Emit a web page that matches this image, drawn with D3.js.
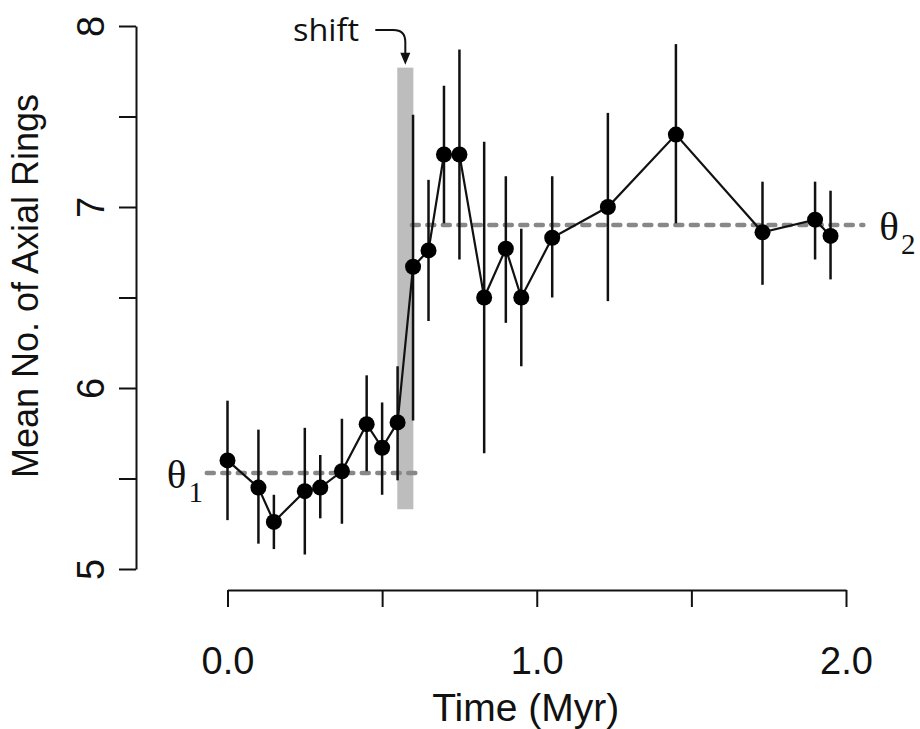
<!DOCTYPE html>
<html>
<head>
<meta charset="utf-8">
<script src="https://cdn.jsdelivr.net/npm/d3@7"></script>
<style>
  html, body { margin: 0; padding: 0; background: #fff; }
  svg { display: block; }
</style>
</head>
<body>
<svg id="chart" width="920" height="729"></svg>
<script>
// ---- data ----
const times = [0.00, 0.10, 0.15, 0.25, 0.30, 0.37, 0.45, 0.50, 0.55, 0.60, 0.65, 0.70, 0.75, 0.83, 0.90, 0.95, 1.05, 1.23, 1.45, 1.73, 1.90, 1.95];
const means = [5.60, 5.45, 5.26, 5.43, 5.45, 5.54, 5.80, 5.67, 5.81, 6.67, 6.76, 7.29, 7.29, 6.50, 6.77, 6.50, 6.83, 7.00, 7.40, 6.86, 6.93, 6.84];
const upper = [5.93, 5.77, 5.41, 5.78, 5.63, 5.83, 6.07, 5.92, 6.12, 7.51, 7.15, 7.67, 7.87, 7.36, 7.17, 6.88, 7.17, 7.52, 7.90, 7.14, 7.14, 7.09];
const lower = [5.27, 5.14, 5.11, 5.08, 5.28, 5.25, 5.54, 5.41, 5.49, 5.82, 6.37, 6.91, 6.71, 5.64, 6.36, 6.12, 6.50, 6.48, 6.91, 6.57, 6.71, 6.60];

const theta1 = { value: 5.53, from: -0.067, to: 0.622 };
const theta2 = { value: 6.90, from: 0.596, to: 2.056 };
const shiftBand = { x0: 0.549, x1: 0.601, y0: 5.33, y1: 7.77 };

const xTickValues = [0, 0.5, 1.0, 1.5, 2.0];
const xTickLabels = ["0.0", "", "1.0", "", "2.0"];
const yTickValues = [5, 5.5, 6, 6.5, 7, 7.5, 8];
const yTickLabels = ["5", "", "6", "", "7", "", "8"];

// ---- scales ----
const svg = d3.select("#chart");
const x = d3.scaleLinear().domain([0, 2]).range([227.5, 846]);
const y = d3.scaleLinear().domain([5, 8]).range([569, 26]);

const sans = "'Liberation Sans', Arial, Helvetica, sans-serif";
const serif = "'Liberation Serif', 'Times New Roman', serif";

// ---- axes ----
const yAxis = d3.axisLeft(y)
  .tickValues(yTickValues)
  .tickSize(17)
  .tickSizeOuter(0)
  .tickFormat((d, i) => yTickLabels[i]);
const gy = svg.append("g").attr("transform", "translate(136,0)").call(yAxis);
gy.select(".domain").attr("stroke", "#111").attr("stroke-width", 2);
gy.selectAll(".tick line").attr("stroke", "#111").attr("stroke-width", 2);
gy.selectAll(".tick text")
  .attr("transform", "rotate(-90)")
  .attr("x", 0).attr("y", -32).attr("dy", 0)
  .attr("text-anchor", "middle")
  .attr("font-family", sans).attr("font-size", 38).attr("fill", "#111");

const xAxis = d3.axisBottom(x)
  .tickValues(xTickValues)
  .tickSize(17)
  .tickSizeOuter(0)
  .tickFormat((d, i) => xTickLabels[i]);
const gx = svg.append("g").attr("transform", "translate(0,590)").call(xAxis);
gx.select(".domain").attr("stroke", "#111").attr("stroke-width", 2);
gx.selectAll(".tick line").attr("stroke", "#111").attr("stroke-width", 2);
gx.selectAll(".tick text")
  .attr("y", 84).attr("dy", 0)
  .attr("font-family", sans).attr("font-size", 38).attr("fill", "#111");

// axis titles
svg.append("text")
  .attr("x", (x(0) + x(2)) / 2 - 11).attr("y", 721)
  .attr("text-anchor", "middle")
  .attr("font-family", sans).attr("font-size", 39).attr("fill", "#111")
  .text("Time (Myr)");

svg.append("text")
  .attr("transform", "translate(38," + 286 + ") rotate(-90)")
  .attr("text-anchor", "middle")
  .attr("font-family", sans).attr("font-size", 36).attr("fill", "#111")
  .text("Mean No. of Axial Rings");

// ---- shift band ----
svg.append("rect")
  .attr("x", x(shiftBand.x0)).attr("width", x(shiftBand.x1) - x(shiftBand.x0))
  .attr("y", y(shiftBand.y1)).attr("height", y(shiftBand.y0) - y(shiftBand.y1))
  .attr("fill", "#bdbdbd");

// ---- theta lines ----
[theta1, theta2].forEach(t => {
  svg.append("line")
    .attr("x1", x(t.from)).attr("x2", x(t.to))
    .attr("y1", y(t.value)).attr("y2", y(t.value))
    .attr("stroke", "#888").attr("stroke-width", 4.5)
    .attr("stroke-linecap", "round")
    .attr("stroke-dasharray", "7,8.5");
});

// ---- error bars ----
svg.append("g").selectAll("line")
  .data(times)
  .join("line")
  .attr("x1", (d) => x(d)).attr("x2", (d) => x(d))
  .attr("y1", (d, i) => y(upper[i])).attr("y2", (d, i) => y(lower[i]))
  .attr("stroke", "#111").attr("stroke-width", 2.5);

// ---- connecting line ----
const line = d3.line().x((d) => x(d[0])).y((d) => y(d[1]));
svg.append("path")
  .datum(times.map((t, i) => [t, means[i]]))
  .attr("d", line)
  .attr("fill", "none").attr("stroke", "#111").attr("stroke-width", 2.2);

// ---- points ----
svg.append("g").selectAll("circle")
  .data(times)
  .join("circle")
  .attr("cx", (d) => x(d)).attr("cy", (d, i) => y(means[i]))
  .attr("r", 8).attr("fill", "#000");

// ---- theta labels ----
function thetaLabel(tx, base, sub) {
  const t = svg.append("text").attr("font-family", serif).attr("fill", "#111");
  t.append("tspan").attr("x", tx).attr("y", base).attr("font-size", 41).text("θ");
  t.append("tspan").attr("dx", 2).attr("y", base + 14).attr("font-size", 29).text(sub);
}
thetaLabel(x(theta1.from) - 40, y(theta1.value) + 15, "1");
thetaLabel(x(theta2.to) + 16, y(theta2.value) + 15, "2");

// ---- shift annotation ----
const ax = (x(shiftBand.x0) + x(shiftBand.x1)) / 2;
const tipY = y(shiftBand.y1) - 3;
svg.append("text")
  .attr("x", 293).attr("y", 41)
  .attr("font-family", "'Open Sans', 'DejaVu Sans', sans-serif").attr("font-size", 31).attr("fill", "#111")
  .attr("textLength", 66).attr("lengthAdjust", "spacingAndGlyphs")
  .text("shift");
svg.append("path")
  .attr("d", `M${ax - 30},30 L${ax - 12},30 Q${ax},30 ${ax},42 L${ax},${tipY - 10}`)
  .attr("fill", "none").attr("stroke", "#111").attr("stroke-width", 2);
svg.append("path")
  .attr("d", `M${ax - 5},${tipY - 12} L${ax + 5},${tipY - 12} L${ax},${tipY} Z`)
  .attr("fill", "#111");
</script>
</body>
</html>
